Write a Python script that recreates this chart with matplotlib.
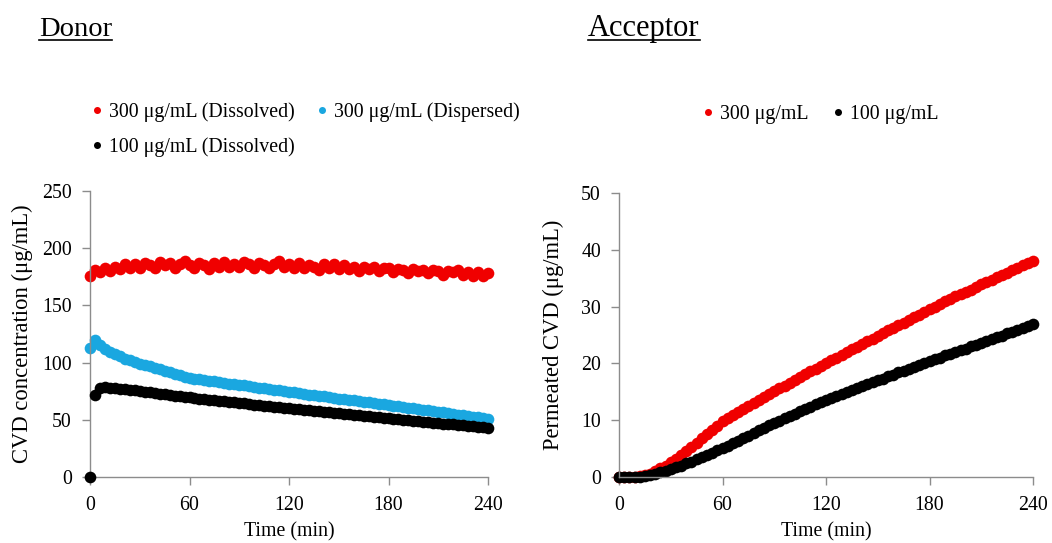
import numpy as np
import matplotlib
matplotlib.use("Agg")
import matplotlib.pyplot as plt
from matplotlib.lines import Line2D

plt.rcParams['font.family'] = ['Liberation Serif', 'DejaVu Serif']

# ---------------- data ----------------
time_min = np.arange(0, 241, 3)  # sampling times (min)

donor_300_dissolved = [
    176, 181, 179, 183, 180, 184, 182, 186, 183, 186, 183, 187, 185, 183, 188, 185,
    187, 183, 186, 189, 185, 183, 187, 185, 182, 187, 184, 188, 184, 186, 184, 188,
    186, 183, 187, 185, 183, 186, 189, 184, 186, 183, 187, 183, 185, 184, 181, 186,
    183, 186, 182, 185, 182, 184, 180, 184, 182, 184, 180, 183, 183, 179, 182, 181,
    178, 182, 180, 181, 178, 181, 180, 177, 180, 179, 181, 177, 179, 176, 179, 176,
    178]

donor_300_dispersed = [
    113, 120, 115, 112, 109.5, 107.5, 105.5, 103.5, 102, 100.5, 99, 97.8, 96.6, 95.4,
    94.2, 93, 91.6, 90.2, 88.8, 87.6, 86.5, 86.0, 85.3, 84.8, 84.1, 83.6, 82.9, 82.4,
    81.7, 81.2, 80.5, 80.0, 79.3, 78.8, 78.1, 77.6, 76.9, 76.4, 75.7, 75.2, 74.5, 74.0,
    73.3, 72.8, 72.1, 71.6, 70.9, 70.4, 69.7, 69.2, 68.5, 68.0, 67.4, 66.9, 66.3, 65.8,
    65.2, 64.6, 64.1, 63.5, 63.0, 62.4, 61.8, 61.2, 60.6, 60.0, 59.4, 58.8, 58.2, 57.6,
    57.0, 56.4, 55.8, 55.2, 54.6, 54.0, 53.4, 52.8, 52.2, 51.6, 51.0]

donor_100_dissolved = [
    0, 72, 77.5, 78.3, 78.2, 77.8, 77.3, 76.8, 76.3, 75.7, 75.1, 74.6, 74.0, 73.4,
    72.9, 72.3, 71.7, 71.2, 70.6, 70.1, 69.5, 69.0, 68.6, 68.1, 67.6, 67.1, 66.7, 66.2,
    65.7, 65.2, 64.8, 64.3, 63.8, 63.3, 62.9, 62.4, 61.9, 61.4, 60.9, 60.5, 60.0, 59.6,
    59.1, 58.7, 58.3, 57.8, 57.4, 56.9, 56.5, 56.1, 55.6, 55.2, 54.8, 54.3, 53.9, 53.5,
    53.0, 52.6, 52.2, 51.7, 51.3, 50.9, 50.5, 50.1, 49.6, 49.2, 48.8, 48.4, 48.0, 47.6,
    47.2, 46.7, 46.3, 45.9, 45.5, 45.1, 44.7, 44.2, 43.8, 43.4, 43.0]

acceptor_300 = [
    0, 0, 0, 0, 0.1, 0.3, 0.6, 1.0, 1.5, 2.0, 2.6, 3.2, 3.9, 4.6, 5.3, 6.0, 6.8, 7.5,
    8.2, 9.0, 9.8, 10.3, 10.9, 11.4, 11.9, 12.5, 13.0, 13.5, 14.0, 14.6, 15.1, 15.6,
    16.1, 16.6, 17.1, 17.6, 18.1, 18.6, 19.1, 19.6, 20.1, 20.6, 21.0, 21.5, 22.0, 22.5,
    22.9, 23.4, 23.9, 24.3, 24.8, 25.3, 25.8, 26.2, 26.7, 27.2, 27.7, 28.2, 28.6, 29.1,
    29.6, 30.0, 30.5, 30.9, 31.3, 31.8, 32.2, 32.6, 33.0, 33.5, 33.9, 34.3, 34.7, 35.2,
    35.6, 36.0, 36.4, 36.8, 37.3, 37.7, 38.1]

acceptor_100 = [
    0, 0, 0, 0, 0, 0.1, 0.3, 0.5, 0.8, 1.1, 1.4, 1.7, 2.0, 2.4, 2.7, 3.1, 3.5, 3.9,
    4.3, 4.7, 5.1, 5.5, 6.0, 6.4, 6.9, 7.3, 7.7, 8.2, 8.6, 9.1, 9.5, 9.9, 10.3, 10.7,
    11.1, 11.6, 12.0, 12.4, 12.8, 13.2, 13.6, 13.9, 14.3, 14.6, 15.0, 15.3, 15.6, 16.0,
    16.3, 16.7, 17.0, 17.3, 17.7, 18.0, 18.4, 18.7, 19.0, 19.4, 19.7, 20.1, 20.4, 20.7,
    21.0, 21.4, 21.7, 22.0, 22.3, 22.6, 23.0, 23.3, 23.6, 23.9, 24.3, 24.6, 24.9, 25.3,
    25.6, 25.9, 26.2, 26.6, 26.9]

x_ticks = [0, 60, 120, 180, 240]
donor_yticks = [0, 50, 100, 150, 200, 250]
acceptor_yticks = [0, 10, 20, 30, 40, 50]

donor_labels = ["300 μg/mL (Dissolved)", "300 μg/mL (Dispersed)", "100 μg/mL (Dissolved)"]
acceptor_labels = ["300 μg/mL", "100 μg/mL"]

RED = '#f00000'
BLUE = '#1aa7e0'
BLACK = '#000000'
SPINE = '#8c8c8c'
FS = 14.3
MS = 8.4

W, H = 1052, 543
fig = plt.figure(figsize=(W / 100, H / 100), dpi=100)

def px_axes(x0, y0, x1, y1):
    return fig.add_axes([x0 / W, 1 - y1 / H, (x1 - x0) / W, (y1 - y0) / H])

L1, R1 = 90, 488
L2, R2 = 619, 1033
ax1 = px_axes(L1, 191, R1, 477)
ax2 = px_axes(L2, 193, R2, 477)

def style(ax, yticks, ylabel, ylab_x_px, left_px, width_px):
    ax.set_xlim(0, 240)
    ax.set_ylim(yticks[0], yticks[-1])
    ax.set_xticks(x_ticks)
    ax.set_yticks(yticks)
    for s in ['top', 'right']:
        ax.spines[s].set_visible(False)
    for s in ['left', 'bottom']:
        ax.spines[s].set_color(SPINE)
        ax.spines[s].set_linewidth(1.0)
    ax.tick_params(direction='out', length=6, width=1.0, color=SPINE,
                   labelsize=FS)
    ax.tick_params(axis='x', pad=8)
    ax.tick_params(axis='y', pad=7)
    ax.set_xlabel("Time (min)", fontsize=FS, labelpad=5)
    ax.set_ylabel(ylabel, fontsize=16.3)
    ax.yaxis.set_label_coords((ylab_x_px - left_px) / width_px, 0.5)

# Donor
h1, = ax1.plot(time_min, donor_300_dissolved, 'o', color=RED, ms=MS, mec='none', clip_on=False)
h2, = ax1.plot(time_min, donor_300_dispersed, 'o', color=BLUE, ms=MS, mec='none', clip_on=False)
h3, = ax1.plot(time_min, donor_100_dissolved, 'o', color=BLACK, ms=MS, mec='none', clip_on=False, zorder=3)
style(ax1, donor_yticks, "CVD concentration (μg/mL)", 33, L1, R1 - L1)

# Acceptor
g1, = ax2.plot(time_min, acceptor_300, 'o', color=RED, ms=MS, mec='none', clip_on=False)
g2, = ax2.plot(time_min, acceptor_100, 'o', color=BLACK, ms=MS, mec='none', clip_on=False)
style(ax2, acceptor_yticks, "Permeated CVD (μg/mL)", 564, L2, R2 - L2)

leg1 = ax1.legend([h1, h3, h2], [donor_labels[0], donor_labels[2], donor_labels[1]],
                  ncol=2, loc='upper left', bbox_to_anchor=(91 / W, 1 - 102 / H),
                  bbox_transform=fig.transFigure, frameon=False, fontsize=FS,
                  markerscale=0.6, handlelength=0.6, handletextpad=0.3,
                  columnspacing=1.1, labelspacing=0.8, borderpad=0, borderaxespad=0)
leg2 = ax2.legend([g1, g2], acceptor_labels, ncol=2, loc='upper left',
                  bbox_to_anchor=(702 / W, 1 - 105 / H), bbox_transform=fig.transFigure,
                  frameon=False, fontsize=FS, markerscale=0.6, handlelength=0.6,
                  handletextpad=0.3, columnspacing=1.2, borderpad=0, borderaxespad=0)

# Titles with underline
t1 = fig.text(39 / W, 1 - 36 / H, "Donor", fontsize=20.5, ha='left', va='baseline')
t2 = fig.text(588 / W, 1 - 36 / H, "Acceptor", fontsize=22, ha='left', va='baseline')
fig.canvas.draw()
r = fig.canvas.get_renderer()
for t in (t1, t2):
    bb = t.get_window_extent(r)
    yline = (H - 39.5) / H
    fig.add_artist(Line2D([bb.x0 / W, bb.x1 / W], [yline, yline],
                          transform=fig.transFigure, color='black', lw=1.2))

fig.savefig("out.png", dpi=100)
